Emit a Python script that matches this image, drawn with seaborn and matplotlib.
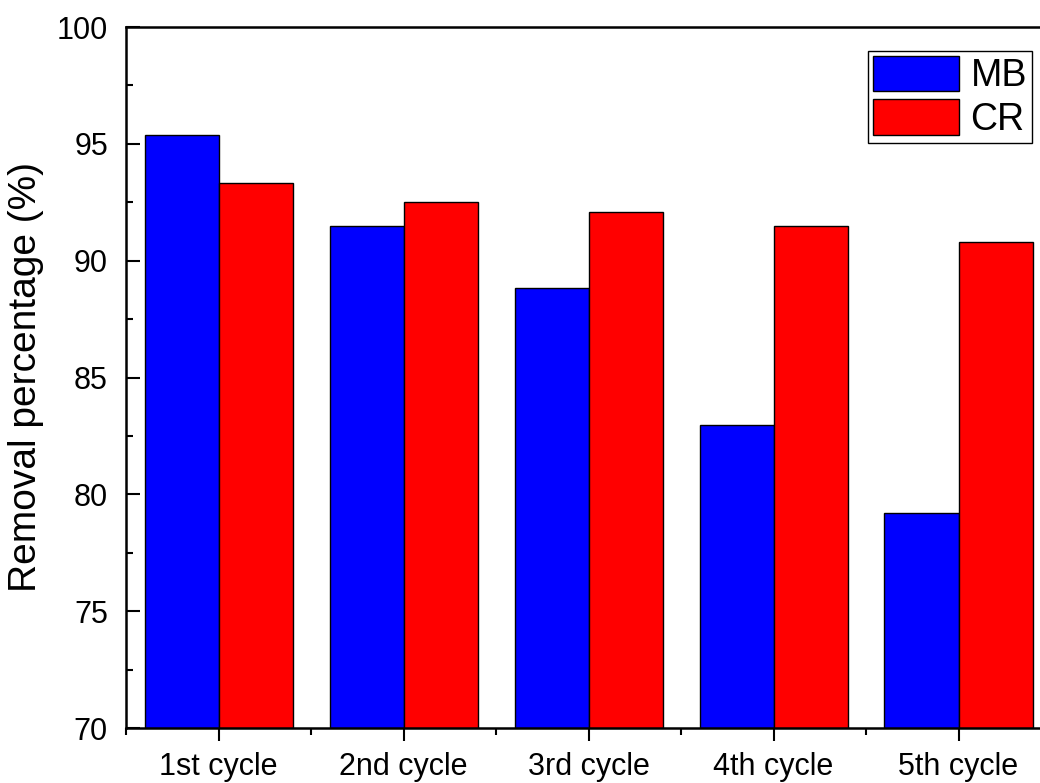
import matplotlib
matplotlib.use("Agg")
import matplotlib.pyplot as plt
from matplotlib.ticker import MultipleLocator, FixedLocator
import pandas as pd
import seaborn as sns

cycles = ["1st cycle", "2nd cycle", "3rd cycle", "4th cycle", "5th cycle"]
mb_removal = [95.37, 91.48, 88.82, 82.97, 79.19]
cr_removal = [93.32, 92.52, 92.08, 91.50, 90.80]
dyes = ["MB", "CR"]
colors = ["#0000ff", "#ff0000"]

df = pd.DataFrame({
    "cycle": cycles * 2,
    "removal": mb_removal + cr_removal,
    "dye": [dyes[0]] * len(cycles) + [dyes[1]] * len(cycles),
})

sns.set_style("ticks")
plt.rcParams["font.family"] = ["Liberation Sans", "DejaVu Sans"]
plt.rcParams["text.color"] = "black"
plt.rcParams["axes.labelcolor"] = "black"
plt.rcParams["xtick.color"] = "black"
plt.rcParams["ytick.color"] = "black"

fig = plt.figure(figsize=(10.40, 7.83), dpi=100)
ax = fig.add_axes([126 / 1040, 1 - 728 / 783, (1051 - 126) / 1040, (728 - 27) / 783])

sns.barplot(data=df, x="cycle", y="removal", hue="dye", order=cycles,
            hue_order=dyes, palette=colors, saturation=1, width=0.8,
            edgecolor="black", linewidth=1.0, ax=ax)

ax.set_ylim(70, 100)
ax.set_xlim(-0.5, 4.5)
ax.yaxis.set_major_locator(MultipleLocator(5))
ax.yaxis.set_minor_locator(MultipleLocator(2.5))
ax.xaxis.set_minor_locator(FixedLocator([i - 0.5 for i in range(len(cycles) + 1)]))

ax.set_xlabel("")
ax.set_ylabel("Removal percentage (%)", fontsize=28, labelpad=9, color="black")

ax.tick_params(axis="y", which="major", direction="in", length=10, width=1.5,
               labelsize=22, pad=13, colors="black")
ax.tick_params(axis="y", which="minor", direction="in", length=5, width=1.5,
               colors="black")
ax.tick_params(axis="x", which="major", direction="out", length=9.5, width=1.5,
               labelsize=22, pad=8, colors="black")
ax.tick_params(axis="x", which="minor", direction="out", length=4.8, width=1.5,
               colors="black")

for side in ["left", "bottom", "top", "right"]:
    ax.spines[side].set_visible(True)
    ax.spines[side].set_linewidth(1.8)
    ax.spines[side].set_color("black")

handles, labels = ax.get_legend_handles_labels()
leg = ax.legend(handles, labels, loc="upper right",
                bbox_to_anchor=(1032 / 1040, 1 - 51 / 783),
                bbox_transform=fig.transFigure, fontsize=27, frameon=True,
                fancybox=False, framealpha=1, edgecolor="black",
                handlelength=2.3, handleheight=1.08, labelspacing=0.13,
                borderpad=0.13, handletextpad=0.3, borderaxespad=0)
leg.get_frame().set_linewidth(1.0)
for txt in leg.get_texts():
    txt.set_color("black")

fig.savefig("out.png", dpi=100)
